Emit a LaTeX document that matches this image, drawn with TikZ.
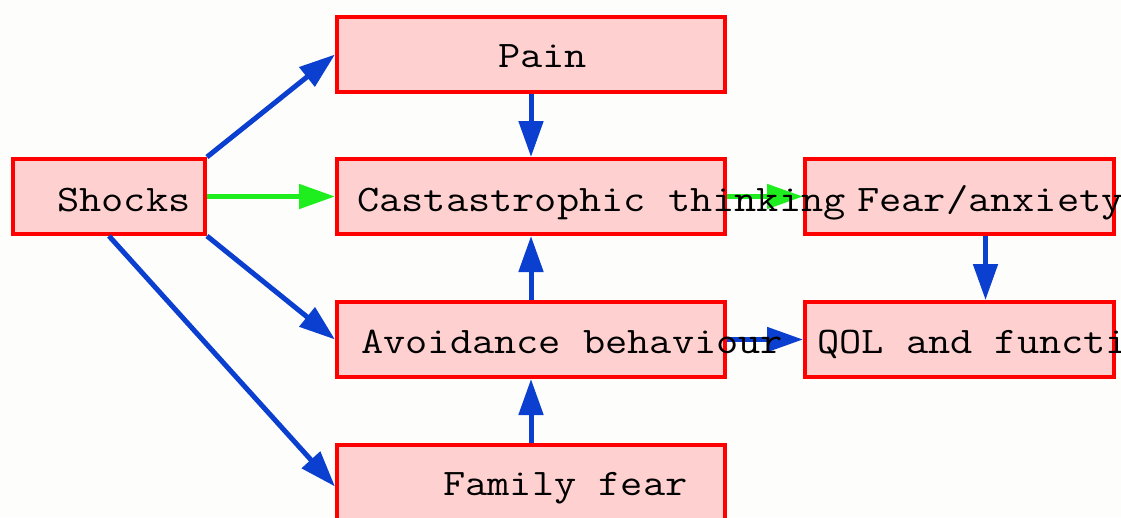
\documentclass[tikz,border=0pt]{standalone}
\usepackage{fontspec}
\setmonofont{Latin Modern Mono}[FakeStretch=1.15]
\usetikzlibrary{arrows.meta}
\definecolor{bg}{HTML}{FDFDFB}
\definecolor{boxfill}{HTML}{FFD0D0}
\definecolor{boxline}{HTML}{FF0000}
\definecolor{arrblue}{HTML}{0B3FCF}
\definecolor{arrgreen}{HTML}{1EEE1E}
\tikzset{
  box/.style={draw=boxline, fill=boxfill, line width=4pt, inner sep=0pt,
    minimum height=75pt, rectangle},
  label/.style={anchor=base west, inner sep=0pt,
    font=\ttfamily\fontsize{37.5}{40}\selectfont, text=black},
  blue arrow/.style={draw=arrblue, line width=5pt,
    -{Triangle[length=36pt,width=24pt]}},
  green arrow/.style={draw=arrgreen, line width=5pt,
    -{Triangle[length=36pt,width=24pt]}},
}
\begin{document}
\begin{tikzpicture}[x=1pt,y=-1pt]
\fill[bg] (0,0) rectangle (1121,517);
\useasboundingbox (0,0) rectangle (1121,517);
% boxes
\node[box, minimum width=192pt] (shocks) at (109,196.5) {};
\node[box, minimum width=388pt] (pain) at (531,54.5) {};
\node[box, minimum width=388pt] (cast) at (531,196.5) {};
\node[box, minimum width=388pt] (avoid) at (531,339.5) {};
\node[box, minimum width=388pt] (family) at (531,482.5) {};
\node[box, minimum width=309pt] (fear) at (959.5,196.5) {};
\node[box, minimum width=309pt] (qol) at (959.5,339.5) {};
% connectors
\draw[blue arrow] (shocks.north east) -- (pain.west);
\draw[green arrow] (shocks.east) -- (cast.west);
\draw[blue arrow] (shocks.south east) -- (avoid.west);
\draw[blue arrow] (shocks.south) -- ([yshift=-4pt]family.west);
\draw[blue arrow] (pain.south) -- (cast.north);
\draw[blue arrow] (avoid.north) -- (cast.south);
\draw[blue arrow] (family.north) -- (avoid.south);
\draw[green arrow] (cast.east) -- (fear.west);
\draw[blue arrow] (avoid.east) -- (qol.west);
\draw[blue arrow] ([xshift=26pt]fear.south) -- ([xshift=26pt]qol.north);
% texts
\node[label] (tshocks) at (57,211) {Shocks};
\node[label] (tpain) at (498,67) {Pain};
\node[label] (tcast) at (357,211) {Castastrophic thinking};
\node[label] (tfear) at (857,211) {Fear/anxiety};
\node[label] (tavoid) at (361,353) {Avoidance behaviour};
\node[label] (tqol) at (817,353) {QOL and functi};
\node[label] (tfamily) at (443,495) {Family fear};
\end{tikzpicture}
\end{document}
